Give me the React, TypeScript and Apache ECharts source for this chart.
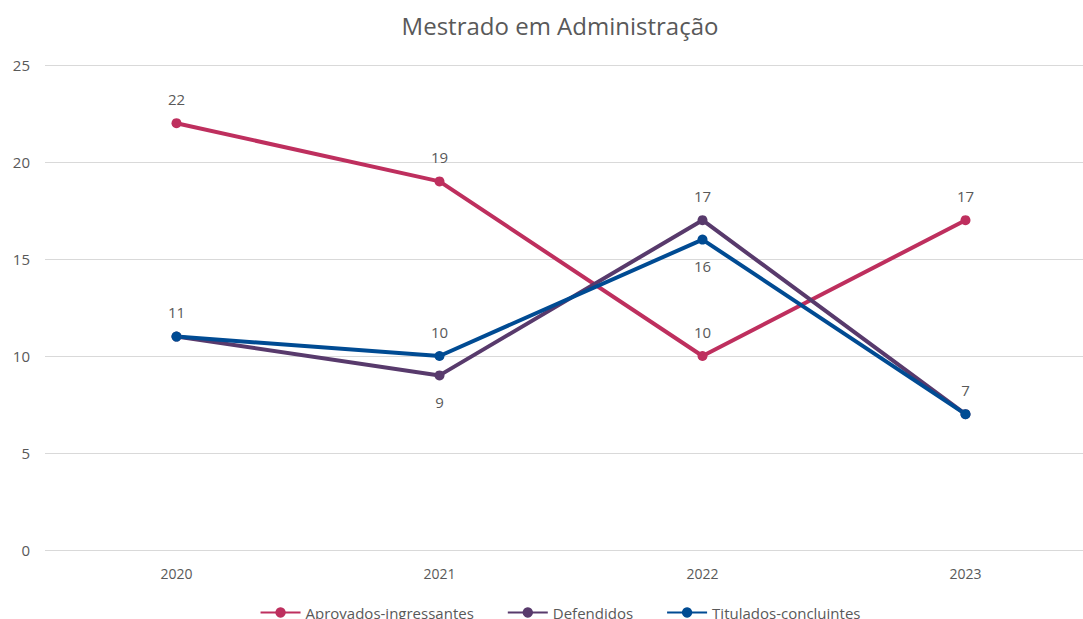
import React, { useEffect, useRef } from "react";
import * as echarts from "echarts";

const categories = ["2020", "2021", "2022", "2023"];
const aprovados = [22, 19, 10, 17];
const defendidos = [11, 9, 17, 7];
const titulados = [11, 10, 16, 7];
const defendidosLabelPos = ["hide", "bottom", "top", "hide"];
const tituladosLabelPos = ["top", "top", "bottom", "top"];

const FONT = "'Open Sans', 'Noto Sans', sans-serif";
const TXT = "#595959";

export default function App() {
  const ref = useRef<HTMLDivElement>(null);
  useEffect(() => {
    const chart = echarts.init(ref.current!, null, { renderer: "svg" });
    const mk = (vals: number[], pos: string[] | null) =>
      vals.map((v, i) => {
        const p = pos ? pos[i] : "top";
        return {
          value: v,
          label: p === "hide" ? { show: false } : { show: true, position: p as any, distance: p === "bottom" ? 14 : 12 },
        };
      });
    const common = {
      type: "line",
      symbol: "circle",
      symbolSize: 10,
      lineStyle: { width: 4 },
      label: { show: true, color: TXT, fontSize: 15, fontFamily: FONT },
    };
    chart.setOption({
      animation: false,
      title: {
        text: "Mestrado em Administração",
        left: "center",
        top: 8,
        textStyle: { color: TXT, fontSize: 24, fontWeight: "normal", fontFamily: FONT },
      },
      legend: {
        bottom: -6,
        left: "center",
        itemWidth: 40,
        itemHeight: 13,
        itemGap: 33,
        textStyle: { color: TXT, fontSize: 15, fontFamily: FONT },
      },
      grid: { left: 45, top: 65, width: 1052, height: 485, containLabel: false },
      xAxis: {
        type: "category",
        data: categories,
        boundaryGap: true,
        axisLine: { show: false },
        axisTick: { show: false },
        axisLabel: { color: TXT, fontSize: 14, fontFamily: FONT, margin: 16 },
      },
      yAxis: {
        type: "value",
        min: 0,
        max: 25,
        interval: 5,
        axisLine: { show: false },
        axisTick: { show: false },
        splitLine: { lineStyle: { color: "#d9d9d9", width: 1 } },
        axisLabel: { color: TXT, fontSize: 15, fontFamily: FONT, margin: 15 },
      },
      series: [
        { ...common, name: "Aprovados-ingressantes", color: "#BE2F5E", data: mk(aprovados, null) },
        { ...common, name: "Defendidos", color: "#583A6C", data: mk(defendidos, defendidosLabelPos) },
        { ...common, name: "Titulados-concluintes", color: "#004B93", data: mk(titulados, tituladosLabelPos) },
      ],
    });
    return () => chart.dispose();
  }, []);
  return (
    <div style={{ position: "fixed", left: 0, top: 0, width: 1083, height: 619, overflow: "hidden", background: "#fff" }}>
      <div ref={ref} style={{ width: 1120, height: 619 }} />
    </div>
  );
}
